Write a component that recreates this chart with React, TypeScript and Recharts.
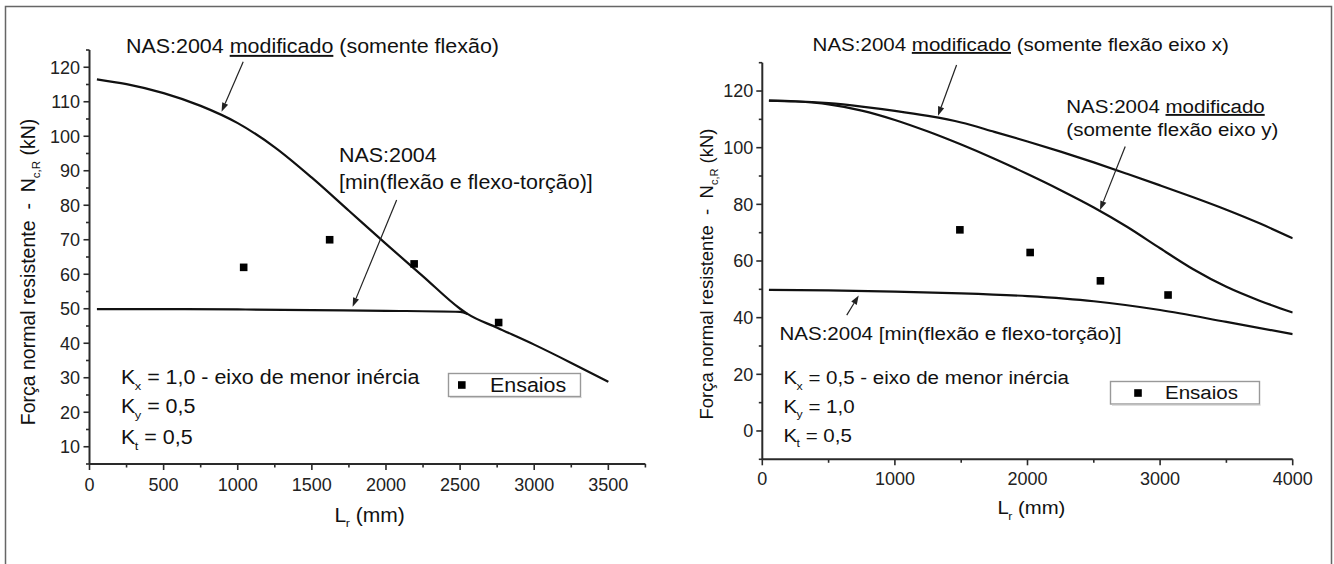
import React from 'react';
import { ComposedChart, Line, Scatter, XAxis, YAxis, ReferenceLine } from 'recharts';

const FONT = '"Liberation Sans", Arial, Helvetica, sans-serif';
const INK = '#111111';
const AXIS = '#2a2a2a';

// ---------------- Left panel (Kx = 1,0 ; Ky = 0,5 ; Kt = 0,5) ----------------
const leftLengths = [50, 250, 500, 750, 1000, 1250, 1500, 1750, 2000, 2250, 2500, 2550, 2750, 3000, 3250, 3500];
const leftModifiedFlexure = [116.5, 115.1, 112.5, 108.8, 103.8, 96.8, 88.0, 78.4, 68.8, 59.4, 50.0, 48.5, 44.5, 39.6, 34.3, 28.8];
const leftNasLengths = [50, 500, 1000, 1500, 2000, 2500, 2550];
const leftNasMin = [49.9, 49.9, 49.8, 49.6, 49.4, 49.1, 48.5];
const leftTestLengths = [1040, 1620, 2190, 2760];
const leftTestLoads = [62, 70, 63, 46];
const leftXTicks = [0, 250, 500, 750, 1000, 1250, 1500, 1750, 2000, 2250, 2500, 2750, 3000, 3250, 3500, 3750];
const leftYTicks = [5, 10, 15, 20, 25, 30, 35, 40, 45, 50, 55, 60, 65, 70, 75, 80, 85, 90, 95, 100, 105, 110, 115, 120, 125];
// arrow anchors (data units): [fromX, fromY, toX, toY]
const leftArrowModified = [1037, 121.6, 891, 107.1];
const leftArrowNas = [2072, 81.5, 1775, 50.6];

// ---------------- Right panel (Kx = 0,5 ; Ky = 1,0 ; Kt = 0,5) ----------------
const rightLengths = [50, 250, 500, 750, 1000, 1250, 1500, 1750, 2000, 2250, 2500, 2750, 3000, 3250, 3500, 3750, 4000];
const rightModifiedAxisX = [116.6, 116.4, 115.7, 114.5, 113.0, 111.2, 108.9, 105.6, 102.2, 98.6, 94.8, 90.8, 86.7, 82.5, 78.1, 73.3, 68.0];
const rightModifiedAxisY = [116.6, 116.3, 115.3, 113.1, 109.8, 105.7, 101.1, 96.1, 90.7, 85.0, 78.9, 72.1, 64.5, 57.1, 50.9, 46.0, 41.8];
const rightNasLengths = [50, 500, 1000, 1500, 2000, 2500, 3000, 3500, 4000];
const rightNasMin = [49.8, 49.6, 49.2, 48.6, 47.6, 45.8, 42.7, 38.5, 34.2];
const rightTestLengths = [1490, 2020, 2550, 3060];
const rightTestLoads = [71, 63, 53, 48];
const rightXTicks = [0, 500, 1000, 1500, 2000, 2500, 3000, 3500, 4000];
const rightYTicks = [-10, 0, 10, 20, 30, 40, 50, 60, 70, 80, 90, 100, 110, 120, 130];
const rightArrowAxisX = [1465, 129.2, 1325, 111.3];
const rightArrowAxisY = [2737, 100.4, 2547, 78.0];
const rightArrowNas = [637, 40.9, 727, 47.8];

const toPoints = (xs: number[], ys: number[]) => xs.map((x, i) => ({ x, y: ys[i] }));

const isMajor = (v: number, step: number) => Math.abs(v / step - Math.round(v / step)) < 1e-9;

const makeXTick = (step: number, labelDy: number) => (p: any) => {
  const v = p.payload.value;
  const major = isMajor(v, step);
  return (
    <g>
      <line x1={p.x} x2={p.x} y1={p.y} y2={p.y + (major ? 6 : 3.5)} stroke={AXIS} strokeWidth={1.6} />
      {major && (
        <text x={p.x} y={p.y + labelDy} textAnchor="middle" fontSize={18} fontFamily={FONT} fill="#222">
          {v}
        </text>
      )}
    </g>
  );
};

const makeYTick = (step: number, gap: number) => (p: any) => {
  const v = p.payload.value;
  const major = isMajor(v, step);
  return (
    <g>
      <line x1={p.x - (major ? 6 : 3.5)} x2={p.x} y1={p.y} y2={p.y} stroke={AXIS} strokeWidth={1.6} />
      {major && (
        <text x={p.x - gap} y={p.y + 6.4} textAnchor="end" fontSize={18} fontFamily={FONT} fill="#222">
          {v}
        </text>
      )}
    </g>
  );
};

const ArrowShape = (props: any) => {
  const { x1, y1, x2, y2 } = props;
  if ([x1, y1, x2, y2].some((v) => typeof v !== 'number' || isNaN(v))) return <g />;
  const ang = Math.atan2(y2 - y1, x2 - x1);
  const len = 9;
  const w = 3.2;
  const bx = x2 - len * Math.cos(ang);
  const by = y2 - len * Math.sin(ang);
  const px = -Math.sin(ang) * w;
  const py = Math.cos(ang) * w;
  return (
    <g>
      <line x1={x1} y1={y1} x2={bx} y2={by} stroke="#222" strokeWidth={1.2} />
      <polygon points={`${x2},${y2} ${bx + px},${by + py} ${bx - px},${by - py}`} fill="#222" />
    </g>
  );
};

const SquareDot = (p: any) => (
  <rect x={p.cx - 3.8} y={p.cy - 3.8} width={7.6} height={7.6} fill="#000" />
);

const Arrow = ({ a }: { a: number[] }) => (
  <ReferenceLine
    segment={[{ x: a[0], y: a[1] }, { x: a[2], y: a[3] }]}
    ifOverflow="visible"
    shape={ArrowShape}
  />
);

function LeftPanel() {
  return (
    <div style={{ position: 'absolute', left: 0, top: 0, width: 700, height: 564 }}>
      <ComposedChart width={700} height={564} margin={{ top: 50, right: 54.6, bottom: 70, left: 29.5 }}>
        <XAxis
          type="number"
          dataKey="x"
          domain={[0, 3750]}
          ticks={leftXTicks}
          interval={0}
          allowDataOverflow
          height={30}
          tickSize={0}
          tickMargin={0}
          tickLine={false}
          axisLine={{ stroke: AXIS, strokeWidth: 2 }}
          tick={makeXTick(500, 27.4)}
        />
        <YAxis
          type="number"
          dataKey="y"
          domain={[5, 125]}
          ticks={leftYTicks}
          interval={0}
          allowDataOverflow
          width={60}
          tickSize={0}
          tickMargin={0}
          tickLine={false}
          axisLine={{ stroke: AXIS, strokeWidth: 2 }}
          tick={makeYTick(10, 9.5)}
        />
        <Line data={toPoints(leftLengths, leftModifiedFlexure)} dataKey="y" type="monotone" stroke={INK} strokeWidth={2.2} dot={false} activeDot={false} isAnimationActive={false} />
        <Line data={toPoints(leftNasLengths, leftNasMin)} dataKey="y" type="monotone" stroke={INK} strokeWidth={2.2} dot={false} activeDot={false} isAnimationActive={false} />
        <Scatter data={toPoints(leftTestLengths, leftTestLoads)} dataKey="y" shape={SquareDot} isAnimationActive={false} />
        {Arrow({ a: leftArrowModified })}
        {Arrow({ a: leftArrowNas })}
      </ComposedChart>
    </div>
  );
}

function RightPanel() {
  return (
    <div style={{ position: 'absolute', left: 660, top: 0, width: 674, height: 564 }}>
      <ComposedChart width={674} height={564} margin={{ top: 62.7, right: 41.3, bottom: 74.7, left: 42.3 }}>
        <XAxis
          type="number"
          dataKey="x"
          domain={[0, 4000]}
          ticks={rightXTicks}
          interval={0}
          allowDataOverflow
          height={30}
          tickSize={0}
          tickMargin={0}
          tickLine={false}
          axisLine={{ stroke: AXIS, strokeWidth: 2 }}
          tick={makeXTick(1000, 25.6)}
        />
        <YAxis
          type="number"
          dataKey="y"
          domain={[-10, 130]}
          ticks={rightYTicks}
          interval={0}
          allowDataOverflow
          width={60}
          tickSize={0}
          tickMargin={0}
          tickLine={false}
          axisLine={{ stroke: AXIS, strokeWidth: 2 }}
          tick={makeYTick(20, 9)}
        />
        <Line data={toPoints(rightLengths, rightModifiedAxisX)} dataKey="y" type="monotone" stroke={INK} strokeWidth={2.2} dot={false} activeDot={false} isAnimationActive={false} />
        <Line data={toPoints(rightLengths, rightModifiedAxisY)} dataKey="y" type="monotone" stroke={INK} strokeWidth={2.2} dot={false} activeDot={false} isAnimationActive={false} />
        <Line data={toPoints(rightNasLengths, rightNasMin)} dataKey="y" type="monotone" stroke={INK} strokeWidth={2.2} dot={false} activeDot={false} isAnimationActive={false} />
        <Scatter data={toPoints(rightTestLengths, rightTestLoads)} dataKey="y" shape={SquareDot} isAnimationActive={false} />
        {Arrow({ a: rightArrowAxisX })}
        {Arrow({ a: rightArrowAxisY })}
        {Arrow({ a: rightArrowNas })}
      </ComposedChart>
    </div>
  );
}

const T = ({ x, y, size, sx = 1, children }: { x: number; y: number; size: number; sx?: number; children: React.ReactNode }) => (
  <text
    transform={`translate(${x} ${y}) scale(${sx} 1)`}
    fontSize={size}
    fontFamily={FONT}
    fill={INK}
    style={{ whiteSpace: 'pre' }}
  >
    {children}
  </text>
);

const Sub = ({ s, size, dx = -0.5 }: { s: string; size: number; dx?: number }) => (
  <tspan fontSize={size * 0.6} dx={dx} dy={size * 0.3}>
    {s}
  </tspan>
);

function Overlay() {
  const L = 19.5;
  const LS = 1.1;
  const R = 19;
  const RS = 1.08;
  return (
    <svg width={1334} height={564} style={{ position: 'absolute', left: 0, top: 0, pointerEvents: 'none' }}>
      {/* figure frame */}
      <path d="M5.5 570 V6.5 H1331.5 V570" fill="none" stroke="#666" strokeWidth={1.5} />

      {/* ----- left panel texts ----- */}
      <T x={126} y={53} size={L} sx={LS}>
        NAS:2004 <tspan textDecoration="underline">modificado</tspan> (somente flexão)
      </T>
      <T x={339} y={162} size={L} sx={LS}>NAS:2004</T>
      <T x={339} y={189} size={L} sx={LS}>[min(flexão e flexo-torção)]</T>
      <T x={121} y={384} size={L} sx={LS}>
        K<Sub s="x" size={L} />
        <tspan dy={-L * 0.3}> = 1,0 - eixo de menor inércia</tspan>
      </T>
      <T x={121} y={413} size={L} sx={LS}>
        K<Sub s="y" size={L} />
        <tspan dy={-L * 0.3}> = 0,5</tspan>
      </T>
      <T x={121} y={444} size={L} sx={LS}>
        K<Sub s="t" size={L} />
        <tspan dy={-L * 0.3}> = 0,5</tspan>
      </T>
      <rect x={448.5} y={373.5} width={132} height={23} fill="#fff" stroke="#999" strokeWidth={1.4} />
      <line x1={450} y1={397.6} x2={581.6} y2={397.6} stroke="#c8c8c8" strokeWidth={1} />
      <rect x={458} y={381.2} width={7.6} height={7.6} fill="#000" />
      <T x={490} y={391.5} size={L} sx={LS}>Ensaios</T>
      <T x={334.5} y={521.5} size={L} sx={1.08}>
        L<Sub s="r" size={L} />
        <tspan dy={-L * 0.3}> (mm)</tspan>
      </T>
      <text transform="translate(35 272) rotate(-90)" textAnchor="middle" fontSize={19.5} fontFamily={FONT} fill={INK} style={{ whiteSpace: 'pre' }}>
        Força normal resistente  -  N<tspan fontSize={11.5} dy={5}>c,R</tspan>
        <tspan dy={-5}> (kN)</tspan>
      </text>

      {/* ----- right panel texts ----- */}
      <T x={812.6} y={51} size={R} sx={RS}>
        NAS:2004 <tspan textDecoration="underline">modificado</tspan> (somente flexão eixo x)
      </T>
      <T x={1066.3} y={113} size={R} sx={RS}>
        NAS:2004 <tspan textDecoration="underline">modificado</tspan>
      </T>
      <T x={1066.3} y={135.5} size={R} sx={RS}>(somente flexão eixo y)</T>
      <T x={779.5} y={340} size={R} sx={RS}>NAS:2004 [min(flexão e flexo-torção)]</T>
      <T x={783.4} y={384} size={R} sx={RS}>
        K<Sub s="x" size={R} />
        <tspan dy={-R * 0.3}> = 0,5 - eixo de menor inércia</tspan>
      </T>
      <T x={783.4} y={412.7} size={R} sx={RS}>
        K<Sub s="y" size={R} />
        <tspan dy={-R * 0.3}> = 1,0</tspan>
      </T>
      <T x={783.4} y={441.7} size={R} sx={RS}>
        K<Sub s="t" size={R} />
        <tspan dy={-R * 0.3}> = 0,5</tspan>
      </T>
      <rect x={1110.5} y={381.5} width={149} height={22.5} fill="#fff" stroke="#999" strokeWidth={1.4} />
      <line x1={1112} y1={405.1} x2={1260.6} y2={405.1} stroke="#c8c8c8" strokeWidth={1} />
      <rect x={1134.2} y={389.2} width={7.6} height={7.6} fill="#000" />
      <T x={1165} y={399} size={R} sx={RS}>Ensaios</T>
      <T x={997.5} y={514} size={R} sx={1.07}>
        L<Sub s="r" size={R} />
        <tspan dy={-R * 0.3}> (mm)</tspan>
      </T>
      <text transform="translate(713 274) rotate(-90)" textAnchor="middle" fontSize={18.5} fontFamily={FONT} fill={INK} style={{ whiteSpace: 'pre' }}>
        Força normal resistente  -  N<tspan fontSize={11} dy={5}>c,R</tspan>
        <tspan dy={-5}> (kN)</tspan>
      </text>
    </svg>
  );
}

export default function App() {
  return (
    <div style={{ position: 'absolute', left: 0, top: 0, width: 1334, height: 564, overflow: 'hidden', background: '#fff' }}>
      <LeftPanel />
      <RightPanel />
      <Overlay />
    </div>
  );
}
